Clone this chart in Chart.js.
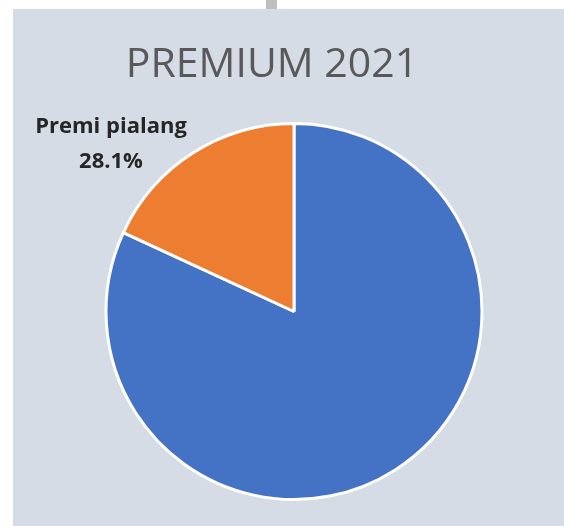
<!DOCTYPE html>
<html>
<head>
<meta charset="utf-8">
<script src="https://cdn.jsdelivr.net/npm/chart.js@4"></script>
<style>
  html, body { margin: 0; padding: 0; background: #ffffff; }
  #wrap { width: 564px; height: 526px; }
</style>
</head>
<body>
<div id="wrap"><canvas id="pie"></canvas></div>
<script>
const categories = ["Lainnya", "Premi pialang"];
const shares = [81.9, 18.1];
const sliceColors = ["#4472C4", "#ED7D31"];
const chartTitle = "PREMIUM 2021";
// label text as printed on the original
const labelLines = [[], ["Premi pialang", "28.1%"]];

const backdrop = {
    id: 'backdrop',
    beforeDraw(chart) {
        const c = chart.ctx;
        c.save();
        c.fillStyle = '#D6DCE5';
        c.fillRect(13, 9, chart.width - 13, chart.height - 9);
        c.fillStyle = '#BFBFBF';
        c.fillRect(266, 0, 11, 9);
        c.fillStyle = '#595959';
        c.font = '41px "Open Sans"';
        c.textAlign = 'center';
        c.textBaseline = 'alphabetic';
        c.fillText(chartTitle, 272, 77);
        c.restore();
    },
    afterDraw(chart) {
        const c = chart.ctx;
        c.save();
        c.fillStyle = '#262626';
        c.font = 'bold 22px "Open Sans"';
        c.textAlign = 'center';
        labelLines.forEach((lines, i) => {
            lines.forEach((t, j) => {
                c.fillText(t, 111, 133 + j * 35);
            });
        });
        c.restore();
    }
};

let ctx = document.getElementById('pie').getContext('2d');
let myChart = new Chart(ctx, {
    type: 'pie',
    data: {
        labels: categories,
        datasets: [{
            data: shares,
            backgroundColor: sliceColors,
            borderColor: '#ffffff',
            borderWidth: 3
        }]
    },
    options: {
        responsive: true,
        maintainAspectRatio: false,
        animation: false,
        layout: { padding: { left: 104, right: 80, top: 122, bottom: 25 } },
        plugins: {
            legend: { display: false },
            tooltip: { enabled: false }
        }
    },
    plugins: [backdrop]
});
</script>
</body>
</html>
